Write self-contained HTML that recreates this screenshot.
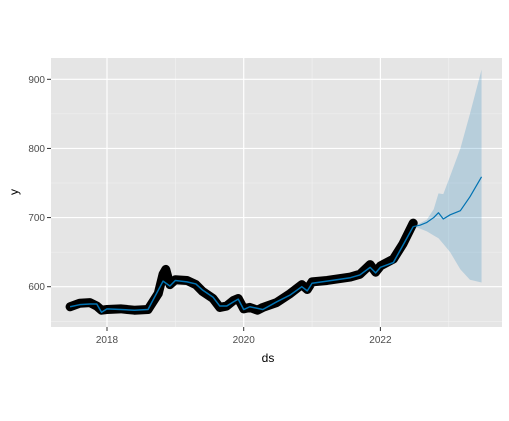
<!DOCTYPE html>
<html><head><meta charset="utf-8"><style>
body{margin:0;background:#fff;}
svg{display:block;font-family:"Liberation Sans",sans-serif;}
</style></head><body>
<svg id="chart" width="509" height="421">
<rect x="51" y="58" width="451" height="269" fill="#e5e5e5"/>
<g id="grid"></g><g id="band"></g><g id="actual"></g><g id="fit"></g><g id="axes"></g>
<text x="268" y="362" font-size="12" text-anchor="middle" fill="#000">ds</text>
<text x="0" y="0" font-size="12" text-anchor="middle" fill="#000" transform="translate(18,192) rotate(-90)">y</text>
</svg>
<script>
const fitYears=[2017.46,2017.6,2017.75,2017.85,2017.92,2018.0,2018.2,2018.4,2018.6,2018.82,2018.92,2019.0,2019.17,2019.3,2019.4,2019.55,2019.65,2019.75,2019.85,2019.92,2020.0,2020.09,2020.28,2020.48,2020.68,2020.85,2020.93,2021.0,2021.22,2021.56,2021.7,2021.85,2021.93,2022.0,2022.19,2022.33,2022.48];
const fitValues=[571,574,575,575,563,568,567,566,567,608,601,609,607,604,595,585,572,572,578,582,567,571,567,578,588,600,594,605,608,613,617,628,620,628,635,660,687];
const actualYears=[2017.46,2017.6,2017.75,2017.85,2017.92,2018.0,2018.2,2018.4,2018.6,2018.75,2018.82,2018.86,2018.92,2019.0,2019.17,2019.3,2019.4,2019.55,2019.65,2019.75,2019.85,2019.92,2020.0,2020.09,2020.2,2020.28,2020.48,2020.68,2020.85,2020.93,2021.0,2021.22,2021.56,2021.7,2021.85,2021.93,2022.0,2022.19,2022.33,2022.48];
const actualValues=[571,576,577,572,566,567,568,566,567,590,618,625,603,610,609,603,593,583,570,572,580,583,568,570,566,570,577,590,603,596,607,609,614,618,632,621,630,640,662,692];
const fcYears=[2022.48,2022.58,2022.68,2022.78,2022.85,2022.92,2023.02,2023.17,2023.31,2023.48];
const fcValues=[687,689,693,700,707,698,704,710,730,759];
const fcUpper=[687,692,697,712,735,734,760,800,850,914];
const fcLower=[687,684,680,674,670,662,650,625,610,606];
const yTicks=[600,700,800,900];
const xTicks=[2018,2020,2022];
const X=t=>107+(t-2018)*68.35;
const Y=v=>286.7-(v-600)*0.6913;
const NS='http://www.w3.org/2000/svg';
function mk(tag,attrs,parent){const e=document.createElementNS(NS,tag);for(const k in attrs)e.setAttribute(k,attrs[k]);document.getElementById(parent).appendChild(e);return e;}
[550,650,750,850].forEach(v=>{const l=mk('line',{x1:51,x2:502,y1:Y(v),y2:Y(v),stroke:'#f2f2f2','stroke-width':0.6},'grid');

});
[2019,2021,2023].forEach(t=>{const l=mk('line',{x1:X(t),x2:X(t),y1:58,y2:327,stroke:'#f2f2f2','stroke-width':0.6},'grid');

});
yTicks.forEach(v=>{const l=mk('line',{x1:51,x2:502,y1:Y(v),y2:Y(v),stroke:'#fff','stroke-width':1.2},'grid');


const t=mk('line',{x1:47,x2:51,y1:Y(v),y2:Y(v),stroke:'#333','stroke-width':1},'axes');


const tx=mk('text',{x:45,y:Y(v)+3.5,'font-size':10,'text-anchor':'end',fill:'#4d4d4d'},'axes');tx.textContent=v;

});
xTicks.forEach(v=>{const l=mk('line',{x1:X(v),x2:X(v),y1:58,y2:327,stroke:'#fff','stroke-width':1.2},'grid');


const t=mk('line',{x1:X(v),x2:X(v),y1:327,y2:331,stroke:'#333','stroke-width':1},'axes');


const tx=mk('text',{x:X(v),y:343,'font-size':10,'text-anchor':'middle',fill:'#4d4d4d'},'axes');tx.textContent=v;

});
let bp=fcYears.map((t,i)=>X(t)+','+Y(fcUpper[i]));
for(let i=fcYears.length-1;i>=0;i--)bp.push(X(fcYears[i])+','+Y(fcLower[i]));
const band=mk('polygon',{points:bp.join(' '),fill:'#0072b2','fill-opacity':0.2},'band');


const act=mk('polyline',{points:actualYears.map((t,i)=>X(t)+','+Y(actualValues[i])).join(' '),fill:'none',stroke:'#000','stroke-width':9,'stroke-linejoin':'round','stroke-linecap':'round'},'actual');


const fit=mk('polyline',{points:fitYears.map((t,i)=>X(t)+','+Y(fitValues[i])).join(' '),fill:'none',stroke:'#0072b2','stroke-width':1.5,'stroke-linejoin':'round'},'fit');


const fc=mk('polyline',{points:fcYears.map((t,i)=>X(t)+','+Y(fcValues[i])).join(' '),fill:'none',stroke:'#0072b2','stroke-width':1.2,'stroke-linejoin':'round'},'fit');


</script>
</body></html>
